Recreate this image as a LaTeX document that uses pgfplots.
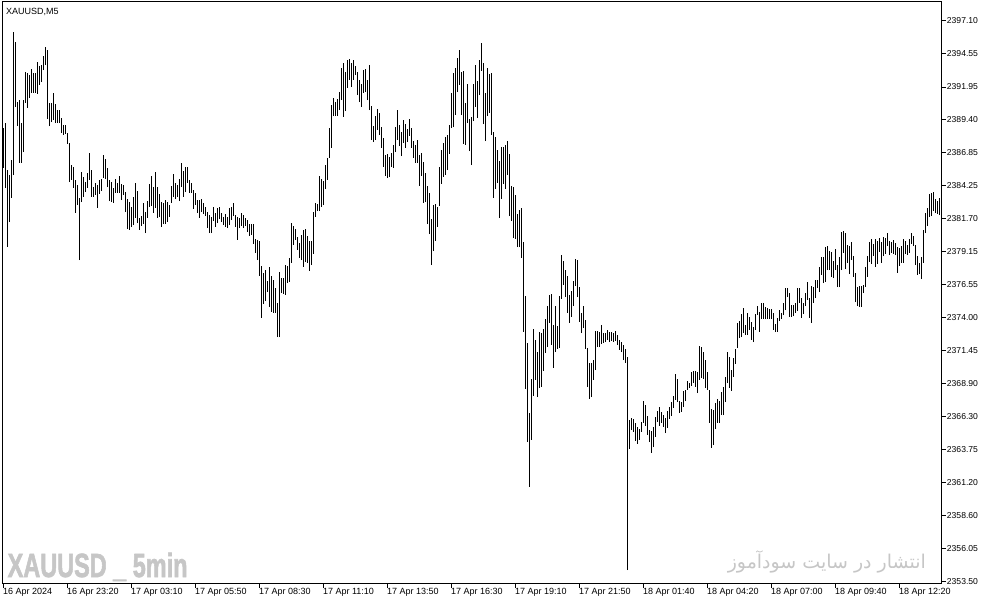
\documentclass[border=0pt]{standalone}
\usepackage{fontspec}
\setmainfont{Liberation Sans}
\newfontfamily\farsi[Script=Arabic]{DejaVu Sans}
\newfontfamily\wmfont[FakeBold=2.2]{Liberation Sans Bold}
\TeXXeTstate=1
\usepackage{graphicx}
\usepackage{pgfplots}
\usepackage{pgfplotstable}
\pgfplotsset{compat=1.18}
\definecolor{wm}{RGB}{198,198,198}

% XAUUSD M5 bars: index, high, low
\pgfplotstableread[row sep=\\]{
i h l\\
0 2388.75 2385.64\\ 1 2389.14 2384.09\\ 2 2385.48 2379.50\\ 3 2385.09 2381.43\\ 4 2386.26 2383.31\\ 5 2396.22 2385.09\\
6 2395.44 2390.39\\ 7 2390.77 2388.90\\ 8 2390.93 2386.03\\ 9 2389.14 2386.03\\ 10 2390.93 2386.88\\ 11 2393.10 2390.70\\
12 2393.03 2390.31\\ 13 2392.87 2391.09\\ 14 2393.34 2391.48\\ 15 2393.03 2391.48\\ 16 2393.03 2391.48\\ 17 2393.88 2391.40\\
18 2393.57 2392.10\\ 19 2393.65 2392.33\\ 20 2394.35 2393.26\\ 21 2395.06 2393.65\\ 22 2394.82 2389.45\\ 23 2390.70 2388.90\\
24 2390.70 2389.21\\ 25 2391.48 2389.37\\ 26 2390.62 2389.14\\ 27 2390.15 2389.14\\ 28 2390.15 2389.14\\ 29 2389.53 2388.37\\
30 2388.98 2388.21\\ 31 2388.98 2388.29\\ 32 2388.37 2387.51\\ 33 2387.59 2384.55\\ 34 2385.87 2384.71\\ 35 2385.72 2384.09\\
36 2384.71 2382.14\\ 37 2384.32 2382.76\\ 38 2383.31 2378.48\\ 39 2385.32 2382.99\\ 40 2384.94 2383.39\\ 41 2384.55 2383.77\\
42 2385.25 2384.09\\ 43 2386.81 2384.71\\ 44 2385.48 2383.39\\ 45 2384.16 2383.39\\ 46 2384.48 2383.54\\ 47 2384.32 2382.53\\
48 2384.71 2383.62\\ 49 2384.78 2383.85\\ 50 2386.65 2384.86\\ 51 2386.34 2384.78\\ 52 2385.64 2384.16\\ 53 2384.71 2383.07\\
54 2384.55 2382.99\\ 55 2384.09 2382.92\\ 56 2384.78 2383.70\\ 57 2384.48 2383.70\\ 58 2385.01 2383.70\\ 59 2384.40 2383.15\\
60 2384.32 2383.54\\ 61 2383.77 2382.21\\ 62 2383.23 2380.89\\ 63 2382.99 2380.82\\ 64 2382.61 2381.05\\ 65 2383.39 2381.20\\
66 2384.48 2381.75\\ 67 2383.85 2381.36\\ 68 2381.75 2380.82\\ 69 2381.90 2381.12\\ 70 2382.92 2381.28\\ 71 2382.21 2380.58\\
72 2383.07 2381.75\\ 73 2384.40 2382.61\\ 74 2385.01 2382.68\\ 75 2384.16 2382.14\\ 76 2385.32 2382.53\\ 77 2384.16 2381.75\\
78 2383.62 2381.83\\ 79 2382.99 2381.05\\ 80 2382.92 2381.28\\ 81 2383.15 2381.28\\ 82 2382.99 2381.43\\ 83 2382.76 2381.83\\
84 2384.24 2382.92\\ 85 2385.17 2383.39\\ 86 2384.48 2383.23\\ 87 2384.32 2383.39\\ 88 2384.78 2383.07\\ 89 2386.03 2384.16\\
90 2385.41 2383.39\\ 91 2385.72 2383.77\\ 92 2385.72 2384.48\\ 93 2384.71 2383.70\\ 94 2384.48 2383.70\\ 95 2383.93 2382.45\\
96 2383.70 2382.76\\ 97 2383.15 2382.14\\ 98 2383.15 2381.75\\ 99 2383.23 2382.21\\ 100 2382.92 2382.06\\ 101 2382.61 2381.90\\
102 2382.21 2380.97\\ 103 2381.98 2380.58\\ 104 2381.83 2380.58\\ 105 2382.61 2381.51\\ 106 2382.14 2381.05\\ 107 2382.53 2381.36\\
108 2382.61 2381.67\\ 109 2382.14 2381.43\\ 110 2381.83 2381.20\\ 111 2382.06 2381.05\\ 112 2381.83 2380.97\\ 113 2382.53 2381.20\\
114 2382.61 2381.59\\ 115 2382.92 2381.90\\ 116 2381.98 2381.05\\ 117 2381.83 2380.04\\ 118 2381.75 2380.97\\ 119 2382.14 2381.12\\
120 2381.98 2380.97\\ 121 2381.75 2381.12\\ 122 2381.59 2380.66\\ 123 2381.28 2380.35\\ 124 2381.28 2380.43\\ 125 2381.28 2379.73\\
126 2380.11 2379.03\\ 127 2380.04 2378.48\\ 128 2379.96 2377.24\\ 129 2378.01 2373.97\\ 130 2377.47 2375.06\\ 131 2377.70 2375.29\\
132 2376.85 2375.99\\ 133 2377.94 2374.83\\ 134 2377.24 2374.44\\ 135 2376.93 2374.36\\ 136 2376.30 2374.36\\ 137 2375.14 2372.49\\
138 2377.55 2372.49\\ 139 2377.08 2375.91\\ 140 2377.08 2375.84\\ 141 2378.09 2375.76\\ 142 2378.01 2376.69\\ 143 2378.64 2376.77\\
144 2381.36 2378.25\\ 145 2381.12 2379.65\\ 146 2380.89 2380.04\\ 147 2380.27 2379.26\\ 148 2379.80 2378.64\\ 149 2380.43 2378.48\\
150 2380.82 2377.94\\ 151 2380.89 2378.33\\ 152 2380.35 2378.25\\ 153 2379.96 2377.63\\ 154 2379.96 2378.09\\ 155 2382.21 2378.95\\
156 2382.92 2381.83\\ 157 2382.84 2382.29\\ 158 2385.01 2382.29\\ 159 2384.78 2382.61\\ 160 2384.63 2382.76\\ 161 2385.87 2384.01\\
162 2386.42 2384.71\\ 163 2388.75 2386.42\\ 164 2390.54 2387.20\\ 165 2391.09 2389.68\\ 166 2390.77 2389.68\\ 167 2391.01 2389.68\\
168 2391.55 2390.15\\ 169 2393.42 2390.93\\ 170 2393.81 2389.61\\ 171 2393.10 2390.07\\ 172 2394.04 2391.86\\ 173 2394.12 2392.49\\
174 2393.81 2391.94\\ 175 2394.04 2392.49\\ 176 2393.57 2392.87\\ 177 2393.10 2391.32\\ 178 2392.49 2390.77\\ 179 2392.17 2390.39\\
180 2393.26 2391.48\\ 181 2393.34 2391.55\\ 182 2392.49 2390.93\\ 183 2393.65 2390.15\\ 184 2390.46 2387.82\\ 185 2388.90 2387.66\\
186 2389.68 2387.82\\ 187 2390.23 2388.60\\ 188 2389.92 2388.21\\ 189 2388.83 2387.20\\ 190 2387.97 2385.72\\ 191 2386.65 2385.01\\
192 2386.73 2384.86\\ 193 2386.49 2384.94\\ 194 2386.81 2385.72\\ 195 2387.43 2385.64\\ 196 2388.83 2386.88\\ 197 2390.15 2387.82\\
198 2388.98 2387.35\\ 199 2388.44 2386.57\\ 200 2389.37 2387.59\\ 201 2389.06 2387.20\\ 202 2388.67 2387.66\\ 203 2389.45 2388.13\\
204 2388.75 2387.20\\ 205 2387.74 2386.42\\ 206 2387.43 2386.03\\ 207 2387.82 2386.03\\ 208 2386.65 2384.24\\ 209 2386.81 2385.01\\
210 2386.11 2382.92\\ 211 2385.25 2382.99\\ 212 2384.24 2381.28\\ 213 2383.70 2380.50\\ 214 2381.67 2378.09\\ 215 2382.76 2379.18\\
216 2382.84 2379.96\\ 217 2382.61 2381.05\\ 218 2385.72 2382.68\\ 219 2387.04 2384.40\\ 220 2387.59 2384.94\\ 221 2388.05 2385.09\\
222 2388.21 2385.48\\ 223 2388.98 2386.73\\ 224 2391.48 2388.75\\ 225 2393.03 2388.83\\ 226 2393.42 2389.76\\ 227 2394.20 2391.55\\
228 2394.82 2392.10\\ 229 2393.10 2389.76\\ 230 2393.19 2387.51\\ 231 2390.70 2387.43\\ 232 2392.17 2389.14\\ 233 2389.45 2386.96\\
234 2389.61 2385.87\\ 235 2392.17 2389.29\\ 236 2393.65 2390.39\\ 237 2392.41 2389.53\\ 238 2394.04 2391.32\\ 239 2395.36 2393.19\\
240 2393.81 2389.06\\ 241 2391.48 2387.74\\ 242 2393.42 2389.68\\ 243 2392.95 2389.92\\ 244 2393.03 2388.21\\ 245 2388.44 2383.31\\
246 2388.05 2384.01\\ 247 2387.04 2384.48\\ 248 2386.18 2381.75\\ 249 2387.27 2383.23\\ 250 2387.27 2384.40\\ 251 2387.43 2384.01\\
252 2387.74 2385.09\\ 253 2386.73 2381.90\\ 254 2384.24 2381.51\\ 255 2384.16 2380.19\\ 256 2383.54 2380.11\\ 257 2382.06 2379.49\\
258 2382.37 2379.49\\ 259 2382.53 2378.64\\ 260 2379.88 2372.88\\ 261 2375.68 2368.45\\ 262 2372.03 2364.32\\ 263 2366.58 2360.82\\
264 2369.22 2364.48\\ 265 2373.11 2367.90\\ 266 2372.26 2369.15\\ 267 2371.32 2367.82\\ 268 2372.88 2368.52\\ 269 2372.80 2368.60\\
270 2373.11 2369.85\\ 271 2373.89 2371.25\\ 272 2374.90 2371.71\\ 273 2375.76 2373.58\\ 274 2375.84 2371.87\\ 275 2373.43 2370.08\\
276 2374.90 2371.32\\ 277 2373.35 2371.56\\ 278 2375.68 2371.63\\ 279 2378.87 2375.45\\ 280 2378.40 2376.54\\ 281 2377.70 2375.60\\
282 2377.24 2374.36\\ 283 2375.76 2373.58\\ 284 2376.07 2374.05\\ 285 2376.85 2374.90\\ 286 2378.56 2376.46\\ 287 2378.48 2375.60\\
288 2376.38 2373.66\\ 289 2374.36 2372.80\\ 290 2374.90 2373.19\\ 291 2373.81 2371.56\\ 292 2371.63 2368.60\\ 293 2370.47 2367.67\\
294 2370.47 2367.82\\ 295 2370.70 2369.15\\ 296 2372.96 2369.92\\ 297 2372.96 2371.71\\ 298 2372.88 2371.71\\ 299 2373.43 2371.94\\
300 2372.80 2372.02\\ 301 2372.80 2372.10\\ 302 2373.04 2372.26\\ 303 2372.88 2372.10\\ 304 2372.88 2372.18\\ 305 2372.80 2372.10\\
306 2372.96 2372.18\\ 307 2372.65 2371.87\\ 308 2372.26 2371.48\\ 309 2372.10 2371.32\\ 310 2371.87 2370.70\\ 311 2371.56 2370.47\\
312 2370.93 2354.36\\ 313 2366.03 2363.78\\ 314 2366.19 2365.26\\ 315 2366.11 2365.10\\ 316 2365.80 2364.40\\ 317 2365.49 2364.17\\
318 2365.33 2364.48\\ 319 2365.88 2365.10\\ 320 2367.51 2365.80\\ 321 2367.20 2365.57\\ 322 2366.34 2364.87\\ 323 2365.26 2364.32\\
324 2365.18 2363.47\\ 325 2365.49 2363.93\\ 326 2366.27 2364.71\\ 327 2366.73 2365.88\\ 328 2367.05 2365.57\\ 329 2366.66 2365.80\\
330 2366.42 2365.49\\ 331 2366.19 2365.02\\ 332 2366.73 2365.41\\ 333 2367.05 2366.11\\ 334 2367.43 2366.34\\ 335 2367.90 2366.97\\
336 2369.61 2367.59\\ 337 2369.22 2367.43\\ 338 2367.51 2366.58\\ 339 2367.43 2366.66\\ 340 2368.29 2367.05\\ 341 2368.37 2367.51\\
342 2369.07 2368.37\\ 343 2368.91 2368.52\\ 344 2369.77 2368.68\\ 345 2369.85 2368.91\\ 346 2369.85 2368.60\\ 347 2369.77 2368.13\\
348 2371.79 2369.15\\ 349 2371.71 2369.30\\ 350 2371.32 2369.22\\ 351 2370.70 2368.52\\ 352 2369.77 2368.37\\ 353 2368.37 2365.80\\
354 2366.89 2363.86\\ 355 2366.81 2364.09\\ 356 2367.36 2365.33\\ 357 2367.67 2365.80\\ 358 2367.51 2365.80\\ 359 2368.21 2366.42\\
360 2368.60 2366.42\\ 361 2369.38 2367.43\\ 362 2371.32 2368.91\\ 363 2370.93 2368.52\\ 364 2369.92 2368.29\\ 365 2370.86 2369.38\\
366 2371.56 2370.39\\ 367 2373.58 2371.63\\ 368 2373.73 2372.41\\ 369 2374.28 2372.49\\ 370 2374.75 2372.80\\ 371 2373.43 2372.65\\
372 2374.36 2372.65\\ 373 2374.05 2373.04\\ 374 2373.66 2372.26\\ 375 2373.27 2372.10\\ 376 2374.28 2373.04\\ 377 2374.90 2374.20\\
378 2374.44 2372.88\\ 379 2375.14 2373.89\\ 380 2375.14 2373.89\\ 381 2374.83 2373.89\\ 382 2374.75 2373.89\\ 383 2374.67 2373.89\\
384 2374.67 2373.89\\ 385 2374.36 2373.04\\ 386 2373.50 2372.88\\ 387 2373.97 2372.88\\ 388 2374.59 2373.73\\ 389 2374.36 2373.89\\
390 2375.14 2374.20\\ 391 2376.30 2374.59\\ 392 2376.30 2375.60\\ 393 2375.91 2374.05\\ 394 2374.98 2374.05\\ 395 2374.98 2374.12\\
396 2375.14 2374.36\\ 397 2376.30 2374.51\\ 398 2376.30 2375.14\\ 399 2375.52 2373.97\\ 400 2375.14 2374.28\\ 401 2375.91 2374.90\\
402 2376.77 2375.37\\ 403 2375.52 2373.97\\ 404 2376.46 2373.58\\ 405 2376.38 2375.14\\ 406 2376.93 2375.52\\ 407 2376.93 2376.30\\
408 2377.94 2375.99\\ 409 2378.72 2377.32\\ 410 2378.72 2376.69\\ 411 2379.49 2376.77\\ 412 2379.57 2377.70\\ 413 2379.18 2377.70\\
414 2379.11 2377.16\\ 415 2378.40 2377.08\\ 416 2379.34 2377.70\\ 417 2378.09 2376.38\\ 418 2378.72 2376.38\\ 419 2380.66 2377.70\\
420 2380.74 2379.03\\ 421 2380.58 2377.78\\ 422 2379.65 2378.25\\ 423 2379.57 2377.39\\ 424 2379.88 2378.48\\ 425 2378.79 2377.16\\
426 2377.47 2375.21\\ 427 2376.38 2374.90\\ 428 2376.46 2374.83\\ 429 2376.46 2374.83\\ 430 2376.54 2375.91\\ 431 2377.94 2376.38\\
432 2378.79 2377.16\\ 433 2379.88 2378.33\\ 434 2380.11 2378.17\\ 435 2379.73 2378.79\\ 436 2380.11 2377.94\\ 437 2379.96 2378.17\\
438 2380.19 2379.11\\ 439 2379.88 2378.25\\ 440 2380.27 2378.79\\ 441 2380.19 2378.95\\ 442 2380.58 2379.57\\ 443 2379.96 2378.87\\
444 2379.88 2379.03\\ 445 2380.04 2378.95\\ 446 2379.80 2378.87\\ 447 2379.49 2377.47\\ 448 2379.42 2378.01\\ 449 2379.57 2378.25\\
450 2380.11 2378.25\\ 451 2379.96 2378.95\\ 452 2379.65 2378.87\\ 453 2380.11 2379.03\\ 454 2380.58 2379.73\\ 455 2380.35 2379.57\\
456 2379.65 2378.09\\ 457 2378.79 2377.32\\ 458 2378.25 2377.39\\ 459 2378.72 2377.00\\ 460 2380.82 2378.25\\ 461 2382.14 2380.58\\
462 2382.53 2381.12\\ 463 2383.62 2381.83\\ 464 2383.70 2381.90\\ 465 2383.77 2382.29\\ 466 2383.23 2382.14\\ 467 2383.07 2382.06\\
468 2383.31 2381.98\\
}\bars

\begin{document}
\begin{tikzpicture}
\useasboundingbox (-2.7pt,-21.5pt) rectangle (984.3pt,583.5pt);
\begin{axis}[
    scale only axis,
    width=939pt, height=581.8pt,
    at={(0,0)}, anchor=south west,
    xmin=-0.3, xmax=469.2,
    ymin=2353.31, ymax=2398.58,
    axis line style={line width=1pt, black},
    tick align=outside,
    major tick length=4pt,
    every tick/.style={black, line width=0.8pt},
    xtick pos=left,
    ytick pos=right,
    yticklabel pos=right,
    xtick={0,32,...,448},
    xticklabels={16 Apr 2024, 16 Apr 23:20, 17 Apr 03:10, 17 Apr 05:50, 17 Apr 08:30,
        17 Apr 11:10, 17 Apr 13:50, 17 Apr 16:30, 17 Apr 19:10, 17 Apr 21:50,
        18 Apr 01:40, 18 Apr 04:20, 18 Apr 07:00, 18 Apr 09:40, 18 Apr 12:20},
    xticklabel style={anchor=north west, inner sep=1pt, xshift=-1.5pt,
        font=\fontsize{9}{10}\selectfont},
    ytick={2397.10,2394.55,2391.95,2389.40,2386.85,2384.25,2381.70,2379.15,2376.55,
        2374.00,2371.45,2368.90,2366.30,2363.75,2361.20,2358.60,2356.05,2353.50},
    yticklabels={2397.10,2394.55,2391.95,2389.40,2386.85,2384.25,2381.70,2379.15,2376.55,
        2374.00,2371.45,2368.90,2366.30,2363.75,2361.20,2358.60,2356.05,2353.50},
    yticklabel style={anchor=west, inner sep=1pt,
        font=\fontsize{8.6}{10}\selectfont},
]
\addplot[draw=none, mark=none, forget plot,
    error bars/.cd, y dir=plus, y explicit, error mark=none,
    error bar style={draw=black, line width=1pt}]
    table[x=i, y=l, y error expr=\thisrow{h}-\thisrow{l}] {\bars};

\node[anchor=west, inner sep=0, font=\fontsize{9}{10}\selectfont]
    at ([xshift=3.3pt, yshift=-9.8pt]rel axis cs:0,1) {XAUUSD,M5};
\node[anchor=base west, inner sep=0, text=wm]
    at ([xshift=4.8pt, yshift=6.5pt]rel axis cs:0,0)
    {\scalebox{0.70}[1]{\fontsize{33.5}{34}\selectfont\wmfont XAUUSD \_ 5min}};
\node[anchor=base east, inner sep=0, text=wm]
    at ([xshift=-15.7pt, yshift=15.5pt]rel axis cs:1,0)
    {\resizebox{198pt}{!}{\farsi\beginR انتشار در سایت سودآموز\endR}};
\end{axis}
\end{tikzpicture}
\end{document}
